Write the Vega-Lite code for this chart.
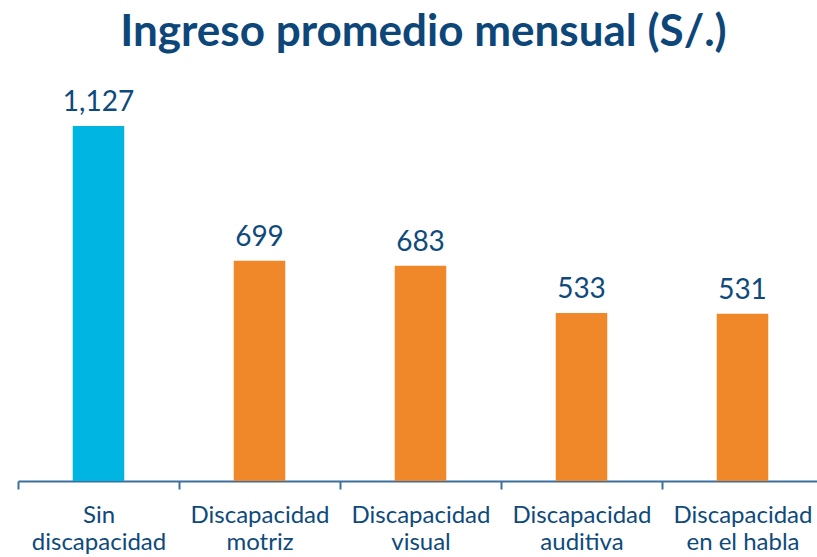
{
  "$schema": "https://vega.github.io/schema/vega-lite/v6.json",
  "autosize": {"type": "none"},
  "width": 805,
  "height": 355,
  "padding": {"left": 18, "top": 126, "right": -6, "bottom": 76},
  "background": "white",
  "title": {
    "text": "Ingreso promedio mensual (S/.)",
    "font": "Lato",
    "fontSize": 44,
    "fontWeight": "bold",
    "color": "#0D477A",
    "anchor": "middle",
    "frame": "group",
    "dx": 3,
    "offset": 34
  },
  "data": {
    "values": [
      {"categoria": "Sin discapacidad", "ingreso": 1127, "grupo": "sin"},
      {"categoria": "Discapacidad motriz", "ingreso": 699, "grupo": "con"},
      {"categoria": "Discapacidad visual", "ingreso": 683, "grupo": "con"},
      {"categoria": "Discapacidad auditiva", "ingreso": 533, "grupo": "con"},
      {"categoria": "Discapacidad en el habla", "ingreso": 531, "grupo": "con"}
    ]
  },
  "encoding": {
    "x": {
      "field": "categoria",
      "type": "nominal",
      "sort": null,
      "scale": {"paddingInner": 0, "paddingOuter": 0},
      "axis": {
        "title": null,
        "labelAngle": 0,
        "labelExpr": "isString(datum.value) && indexof(datum.value, ' ') > 0 ? [substring(datum.value, 0, indexof(datum.value, ' ')), substring(datum.value, indexof(datum.value, ' ') + 1)] : ''",
        "labelFont": "Lato",
        "labelFontSize": 24,
        "labelColor": "#0E4A7C",
        "labelLineHeight": 27,
        "labelPadding": 14,
        "tickBand": "extent",
        "tickSize": 8,
        "tickColor": "#3C6E9E",
        "tickWidth": 2,
        "domainColor": "#3C6E9E",
        "domainWidth": 2,
        "grid": false
      }
    },
    "y": {
      "field": "ingreso",
      "type": "quantitative",
      "scale": {"domain": [0, 1127], "nice": false},
      "axis": null
    }
  },
  "layer": [
    {
      "mark": {"type": "bar", "width": {"band": 0.32}},
      "encoding": {
        "color": {
          "field": "grupo",
          "type": "nominal",
          "scale": {"domain": ["sin", "con"], "range": ["#00B5E2", "#F0882A"]},
          "legend": null
        }
      }
    },
    {
      "mark": {
        "type": "text",
        "dy": -15,
        "baseline": "alphabetic",
        "font": "Lato",
        "fontSize": 28,
        "color": "#0E4A7C"
      },
      "encoding": {
        "text": {"field": "ingreso", "type": "quantitative", "format": ","}
      }
    }
  ],
  "config": {"view": {"stroke": null}}
}
